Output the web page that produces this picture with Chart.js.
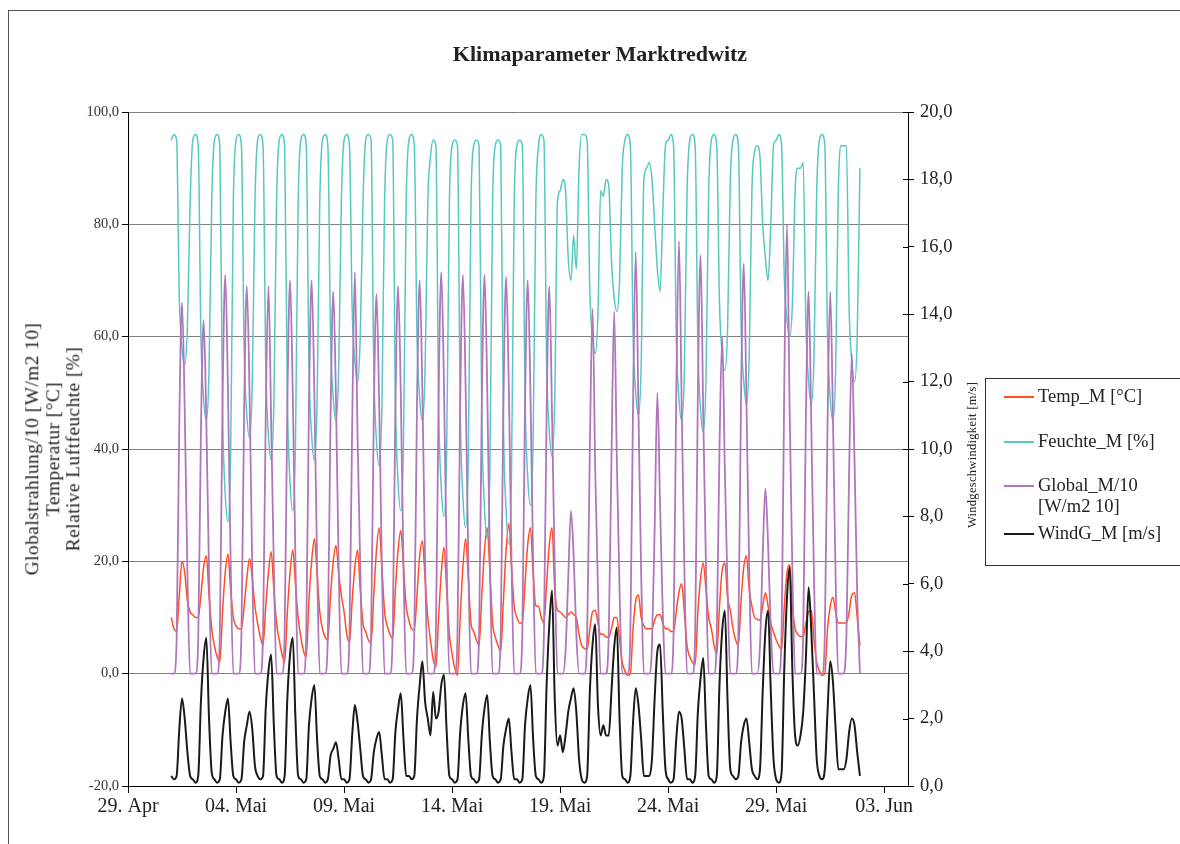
<!DOCTYPE html>
<html><head><meta charset="utf-8">
<script src="https://cdn.jsdelivr.net/npm/chart.js@4.4.1/dist/chart.umd.min.js"></script>
<style>
body{margin:0;background:#fff;}
#wrap{position:relative;width:1180px;height:844px;overflow:hidden;font-family:"Liberation Serif","Times New Roman",serif;color:#222;}
#frame{position:absolute;left:8px;top:10px;width:1200px;height:900px;border-left:1px solid #555;border-top:1px solid #555;}
#c{position:absolute;left:0;top:0;}
#title{position:absolute;left:360px;width:480px;top:41px;text-align:center;font-weight:bold;font-size:22px;}
.rot{position:absolute;transform:translate(-50%,-50%) rotate(-90deg);white-space:nowrap;text-align:center;}
#ltitle{left:53px;top:449px;font-size:19.5px;line-height:20.5px;letter-spacing:0.4px;}
#rtitle{left:972px;top:455px;font-size:12.5px;letter-spacing:0.3px;}
#legend{position:absolute;left:985px;top:378px;width:220px;height:186px;border:1px solid #333;background:#fff;}
.li{position:absolute;left:52px;font-size:18.5px;line-height:21px;white-space:nowrap;}
.ln{position:absolute;left:18px;width:30px;height:2px;}
</style></head><body>
<div id="wrap">
<div id="frame"></div>
<canvas id="c" width="1180" height="844"></canvas>
<div id="title">Klimaparameter Marktredwitz</div>
<div id="ltitle" class="rot">Globalstrahlung/10 [W/m2 10]<br>Temperatur [°C]<br>Relative Luftfeuchte [%]</div>
<div id="rtitle" class="rot">Windgeschwindigkeit [m/s]</div>
<div id="legend">
  <div class="ln" style="top:17px;background:#FF4E1F"></div><div class="li" style="top:7px">Temp_M [°C]</div>
  <div class="ln" style="top:62px;background:#56C8C2"></div><div class="li" style="top:52px">Feuchte_M [%]</div>
  <div class="ln" style="top:106px;background:#B075BB"></div><div class="li" style="top:96px">Global_M/10<br>[W/m2 10]</div>
  <div class="ln" style="top:154px;background:#1A1A1A"></div><div class="li" style="top:144px">WindG_M [m/s]</div>
</div>
</div>
<script>
// x axis: days after 29. Apr 00:00; data from 01. Mai 00:00 every 3 hours
const xTickLabels = ["29. Apr","04. Mai","09. Mai","14. Mai","19. Mai","24. Mai","29. Mai","03. Jun"];
const startDay = 2;
const stepDays = 0.125;

// Temp_M [°C] (0,3,6,9,12,15,18,21 h per day)
const tempM = [
10,8,7.5,14,20,18,13,11,
10.5,10,10,14,19,21,14,8,
5,3,2,11,18,21.3,15,10,
8.5,8,8,12,17,20.5,17,12,
9,6.5,5,12,18,21.7,15,9,
6,3.5,2,11,18,22,16,10,
6.5,4,3,13,20,24,18,11,
8,6.5,6,14,20,22.8,18,14,
11,7,5.5,13,19,22,15,9,
7.5,6,5.5,14,22,26,19,11,
8.5,7,6.2,15,22,25.5,19,12,
9.5,8,7.8,14,21,23.6,17,10,
6,2.5,1.2,10,18,22.5,15,7,
3.5,1,-0.3,10,19,24,17,9,
7.5,6,5,14,22,26,18,9,
6.5,5,4,13,22,26.7,19,12,
10,9,9,16,23,26,18,12,
12,10,9,16,23,26,15,11.3,
11,10.5,10,10.5,11,10.5,10,7,
5,4.5,4.3,8,11,11.3,9,7,
7,6.5,6.5,8,10,10,6,2,
0.5,-0.3,0,8,13,14,10,8.5,
8,8,8,9.5,10.5,10.5,9,8,
8,7.5,7.5,11,14.5,16,11,5,
3,2,1.6,11,17,19.7,15,10,
8,5,3.5,12,18.5,19.7,13.6,11.3,
8,6,5,13,19,21,15,12,
10,9.7,9.5,12,14.4,12,9,7.4,
6,5,4.3,12,18,19.4,12,8,
7,6.6,6.6,9,11,11.3,6,2,
0.5,-0.3,0,8,12,13.6,11,9,
9,9,9,11,14,14.4,10,5
];

// Feuchte_M [%]
const feuchteM = [
95,96,95,67,58,55,62,84,
95,96,94,60,49,45,54,84,
95,96,94,47,32,27,39,84,
95,96,94,58,46,42,51.5,84,
95,96,94,55,42.5,38,48,84,
95,96,94,49,34,29,41,84,
95,96,94,55,42.5,38,48,84,
95,96,94,60,49,45,54,84,
95,96,94,65,55.5,52,60,84,
95,96,95,54.5,41.5,37,47.5,84,
95,96,95,49,34,29,41,84,
95,96,94,60,49,45,54,84,
92,95,94,48,33,28,40,84,
94,95,94,47,31.5,26,38.5,84,
94,95,94,45,29.5,24,37,84,
94,95,94,44.5,29,23,36,84,
94,95,94,49.5,35,30,41.7,84,
94,96,95,55.5,43,38.7,48.8,84,
86,88,86,74,70,78,72,90,
96,96,95,68,60,57,64,86,
85,88,87,73.6,67,64.5,70,90,
95,96,94,60.7,50,46,55,88,
90,91,88,80,72,68,82,94,
95,96,94,60,49,45,54,86,
95,96,94,58.6,47,43,52.4,86,
95,96,94,66,57,54,61.4,88,
95,96,94,62,52,48,56.5,86,
93,94,92,80,74,70,80,94,
95,96,94,70.5,63,60,66,86,
90,90,91,62,52,48,56.5,86,
95,96,94,60,49,45,54,86,
94,94,94,65,55.5,52,60,90
];

// Global_M/10 [W/m2 10]
const globalM = [
0,0,6,45,66,47,18,0,
0,0,6,43,63,45,18,0,
0,0,7,48,71,51,20,0,
0,0,7,47,69,50,19,0,
0,0,7,46,69,45,19,0,
0,0,7,48,70,50,20,0,
0,0,7,48,70,50,20,0,
0,0,7,46,68,49,19,0,
0,0,7,44,71.5,42,19,0,
0,0,7,46,67.6,48,19,0,
0,0,7,47,69,50,19,0,
0,0,7,48,70,50,20,0,
0,0,7,49,71.5,51,20,0,
0,0,7,48,71,51,20,0,
0,0,7,48,71,51,20,0,
0,0,7,48,70.7,51,20,0,
0,0,7,48,70,50,20,0,
0,0,7,47,69,46,19,0,
0,0,4,17,29,21,7,0,
0,0,7,40,65,36,15,0,
0,0,7,38,64.5,38,15,0,
0,0,7,48,75,47,18,0,
0,0,5,26,50,30,11,0,
0,0,7,50,77,48,19,0,
0,0,7,50,74.5,46,19,0,
0,0,7,40,60,36,15,0,
0,0,7,50,73,48,19,0,
0,0,5,21,33,23,8,0,
0,0,7,52,80,46,18,0,
0,0,7,46,68,44,17,0,
0,0,7,44,68,46,17,0,
0,0,7,36,57,38,14,0
];

// WindG_M [m/s]
const windM = [
0.3,0.2,0.3,1.7,2.6,2.0,1.0,0.3,
0.2,0.1,0.3,2.5,3.8,4.4,2.0,0.4,
0.2,0.1,0.2,1.5,2.2,2.6,1.3,0.3,
0.2,0.1,0.2,1.3,1.8,2.2,1.7,0.6,
0.3,0.2,0.3,2.3,3.4,3.9,1.8,0.3,
0.2,0.1,0.3,2.6,3.9,4.4,2.0,0.3,
0.2,0.1,0.2,1.8,2.6,3.0,1.4,0.3,
0.2,0.1,0.2,0.9,1.1,1.3,0.8,0.2,
0.2,0.1,0.2,1.5,2.4,1.9,1.1,0.3,
0.2,0.1,0.2,1.0,1.4,1.6,0.9,0.2,
0.2,0.1,0.2,1.6,2.3,2.75,1.4,0.3,
0.3,0.2,0.3,2.0,3.0,3.7,2.5,2.0,
1.5,2.8,2.0,2.2,3.0,3.3,1.6,0.3,
0.2,0.1,0.2,1.6,2.4,2.75,1.4,0.3,
0.2,0.1,0.2,1.5,2.3,2.7,1.3,0.3,
0.2,0.1,0.2,1.2,1.7,2.0,1.0,0.2,
0.2,0.1,0.2,1.8,2.6,3.0,1.4,0.3,
0.2,0.1,0.3,3.0,4.8,5.8,2.6,1.2,
1.5,1.0,1.5,2.2,2.6,2.9,2.2,0.8,
0.2,0.1,0.3,2.8,4.2,4.8,2.4,1.5,
1.8,1.5,1.5,2.8,4.1,4.7,2.0,0.3,
0.2,0.1,0.3,1.9,2.9,2.4,1.4,0.3,
0.3,0.3,0.8,2.6,4.0,4.2,2.2,0.5,
0.2,0.1,0.2,1.4,2.2,2.0,1.1,0.2,
0.2,0.1,0.3,2.2,3.2,3.8,1.8,0.3,
0.2,0.1,0.3,3.0,4.6,5.2,2.5,0.5,
0.3,0.2,0.3,1.3,1.8,2.0,1.3,0.5,
0.3,0.2,0.5,2.8,4.6,5.2,2.8,0.8,
0.2,0.1,0.4,3.5,5.6,6.5,3.4,1.5,
1.2,1.5,2.2,3.8,5.9,4.6,2.7,0.8,
0.3,0.2,0.5,2.2,3.7,3.1,1.7,0.5,
0.5,0.5,0.8,1.6,2.0,1.8,1.0,0.3
];

function toPoints(arr){ return arr.map((v,i)=>({x:startDay+i*stepDays, y:v})); }
function fmt(v){ return Number(v).toFixed(1).replace('.', ','); }
const serif = '"Liberation Serif", "Times New Roman", serif';

const tickCross = {
  id:'tickCross',
  afterDraw(chart){
    const ctx = chart.ctx, a = chart.chartArea;
    ctx.save(); ctx.strokeStyle = '#000'; ctx.lineWidth = 1;
    chart.scales.y1.ticks.forEach(t=>{
      const y = Math.round(chart.scales.y1.getPixelForValue(t.value))+0.5;
      ctx.beginPath(); ctx.moveTo(a.right-5, y); ctx.lineTo(a.right, y); ctx.stroke();
    });
    ctx.restore();
  }
};

const ds = (label, data, color, axis, order, w) => ({
  label, data: toPoints(data), borderColor: color, backgroundColor: color,
  borderWidth: w, pointRadius: 0, fill: false, yAxisID: axis,
  cubicInterpolationMode: 'monotone', order
});

new Chart(document.getElementById('c'), {
  type: 'line',
  data: { datasets: [
    ds('Temp_M [°C]', tempM, '#FF4E1F', 'y', 3, 1.5),
    ds('Feuchte_M [%]', feuchteM, '#56C8C2', 'y', 2, 1.5),
    ds('Global_M/10 [W/m2 10]', globalM, '#B075BB', 'y', 1, 1.8),
    ds('WindG_M [m/s]', windM, '#1A1A1A', 'y1', 0, 2.0)
  ]},
  options: {
    responsive: false, animation: false,
    layout: { padding: { top: 112, left: 0, right: 0, bottom: 0 } },
    plugins: { legend: { display: false }, title: { display: false }, tooltip: { enabled: false } },
    scales: {
      x: {
        type: 'linear', min: 0, max: 36.1,
        afterBuildTicks: s => { s.ticks = xTickLabels.map((_, i) => ({ value: i * 5 })); },
        afterFit: s => { s.height = 58; },
        ticks: { callback: v => xTickLabels[Math.round(v / 5)], font: { family: serif, size: 20 }, color: '#222', padding: 2, maxRotation: 0, autoSkip: false },
        grid: { drawOnChartArea: false, drawTicks: true, tickLength: 7, tickColor: '#000' },
        border: { display: true, color: '#000', width: 1 }
      },
      y: {
        position: 'left', min: -20, max: 100,
        afterFit: s => { s.width = 128; },
        ticks: { stepSize: 20, callback: fmt, font: { family: serif, size: 14.5 }, color: '#333', padding: 3 },
        grid: { color: '#808080', tickColor: '#000', tickLength: 6, drawTicks: true },
        border: { display: true, color: '#000', width: 1 }
      },
      y1: {
        position: 'right', min: 0, max: 20,
        afterFit: s => { s.width = 272; },
        ticks: { stepSize: 2, callback: fmt, font: { family: serif, size: 18.5 }, color: '#222', padding: 6 },
        grid: { drawOnChartArea: false, tickColor: '#000', tickLength: 6 },
        border: { display: true, color: '#000', width: 1 }
      }
    }
  },
  plugins: [tickCross]
});
</script>
</body></html>
